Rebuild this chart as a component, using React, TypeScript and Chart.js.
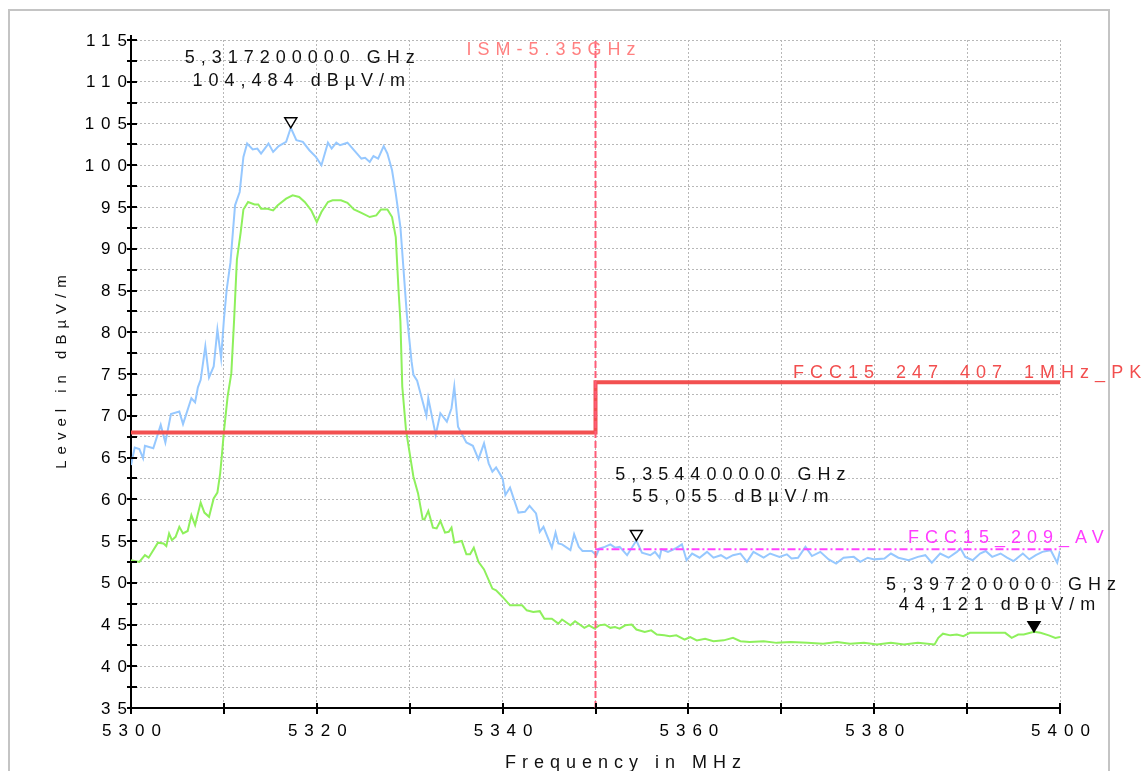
import React, { useEffect, useRef } from "react";
import { Chart, registerables } from "chart.js";

Chart.register(...registerables);

// ---------- data ----------
const peakFreq = [
  5300.0, 5300.4, 5300.9, 5301.3, 5301.5, 5302.4, 5303.2, 5303.7, 5304.3, 5305.2,
  5305.6, 5306.5, 5306.9, 5307.2, 5307.5, 5308.0, 5308.4, 5308.9, 5309.3, 5309.7,
  5310.0, 5310.3, 5310.7, 5311.2, 5311.7, 5312.1, 5312.5, 5313.1, 5313.6, 5314.0,
  5314.8, 5315.3, 5315.9, 5316.7, 5317.2, 5317.8, 5318.5, 5319.2, 5319.9, 5320.5,
  5321.2, 5321.6, 5322.1, 5322.5, 5323.3, 5324.0, 5324.8, 5325.2, 5325.7, 5326.1,
  5326.6, 5327.2, 5327.6, 5328.1, 5328.5, 5329.0, 5329.7, 5330.2, 5330.4, 5330.8,
  5331.8, 5332.0, 5332.8, 5333.3, 5334.0, 5334.5, 5334.8, 5335.2, 5336.1, 5336.8,
  5337.4, 5338.0, 5338.5, 5338.9, 5339.3, 5340.0, 5340.3, 5340.8, 5341.7, 5342.4,
  5342.9, 5343.6, 5344.0, 5344.4, 5345.3, 5345.7, 5346.0, 5346.4, 5347.3, 5347.7,
  5348.2, 5348.6, 5349.6, 5350.1, 5350.4, 5351.0, 5351.6, 5352.1, 5352.6, 5353.4,
  5354.4, 5355.0, 5355.9, 5356.4, 5356.9, 5357.1, 5357.8, 5358.6, 5359.3, 5359.8,
  5360.4, 5361.2, 5362.0, 5362.7, 5363.5, 5364.1, 5364.8, 5365.6, 5366.3, 5367.0,
  5368.1, 5368.8, 5369.8, 5370.6, 5371.1, 5371.8, 5372.6, 5373.3, 5374.2, 5375.1,
  5375.9, 5376.7, 5377.8, 5378.5, 5379.3, 5380.0, 5381.1, 5381.8, 5382.6, 5383.7,
  5384.7, 5385.5, 5386.2, 5387.1, 5388.0, 5388.9, 5389.3, 5389.8, 5390.6, 5391.4,
  5392.0, 5392.7, 5393.6, 5394.3, 5395.0, 5396.0, 5396.7, 5397.4, 5398.1, 5399.0,
  5399.7, 5400.0,
];
const peakLevel = [
  64.1, 66.2, 66.0, 64.9, 66.4, 66.1, 68.9, 66.8, 70.2, 70.5,
  69.0, 72.1, 71.6, 73.4, 74.3, 78.3, 74.6, 75.9, 80.3, 76.9,
  81.5, 85.1, 88.3, 95.2, 96.8, 101.0, 102.6, 101.9, 102.0, 101.4,
  102.6, 101.6, 102.3, 102.8, 104.484, 103.0, 102.8, 101.8, 101.0, 100.0,
  102.7, 102.0, 102.7, 102.4, 102.7, 101.8, 100.8, 100.9, 100.4, 101.1,
  100.8, 102.3, 101.4, 99.4, 96.6, 92.6, 82.0, 76.5, 74.9, 74.2,
  70.0, 72.1, 67.7, 70.3, 69.3, 70.9, 73.5, 68.7, 66.8, 66.4,
  64.8, 66.7, 64.3, 63.3, 63.8, 62.5, 60.5, 61.4, 58.4, 58.5,
  59.2, 58.3, 56.1, 56.7, 54.2, 56.0, 54.7, 54.6, 53.9, 55.8,
  54.3, 53.8, 53.8, 53.3, 54.1, 54.3, 54.6, 54.2, 54.3, 53.3,
  55.055, 53.6, 53.3, 53.7, 53.0, 54.0, 53.7, 54.1, 54.6, 52.7,
  53.5, 53.0, 53.7, 53.0, 53.3, 52.9, 53.3, 53.5, 52.5, 53.7,
  53.0, 53.5, 53.1, 53.4, 52.9, 53.0, 54.3, 53.2, 53.7, 52.8,
  52.3, 53.0, 53.1, 52.5, 53.0, 52.8, 52.9, 53.5, 53.0, 52.7,
  53.1, 53.3, 52.4, 53.5, 53.0, 53.7, 54.1, 53.1, 52.7, 53.5,
  53.8, 53.1, 53.5, 53.0, 52.6, 53.5, 52.8, 53.3, 53.7, 53.9,
  52.4, 53.8,
];

const avgFreq = [
  5300.0, 5300.9, 5301.5, 5301.9, 5302.9, 5303.5, 5303.8, 5304.1, 5304.4, 5304.8,
  5305.2, 5305.6, 5306.1, 5306.5, 5306.9, 5307.5, 5307.9, 5308.4, 5308.9, 5309.3,
  5309.6, 5309.8, 5310.0, 5310.4, 5310.8, 5311.1, 5311.4, 5311.8, 5312.1, 5312.6,
  5313.3, 5313.7, 5314.0, 5314.7, 5315.3, 5315.8, 5316.7, 5317.4, 5318.1, 5318.7,
  5319.4, 5320.0, 5320.5, 5321.2, 5321.7, 5322.6, 5323.3, 5324.0, 5324.8, 5325.7,
  5326.4, 5326.9, 5327.6, 5328.1, 5328.5, 5328.8, 5329.0, 5329.2, 5329.6, 5330.0,
  5330.4, 5330.9, 5331.4, 5331.6, 5332.0, 5332.5, 5332.9, 5333.3, 5333.8, 5334.2,
  5334.5, 5334.8, 5335.6, 5336.1, 5336.5, 5336.9, 5337.4, 5338.0, 5338.9, 5339.3,
  5340.0, 5340.8, 5342.1, 5342.6, 5343.3, 5344.0, 5344.5, 5345.3, 5346.0, 5346.4,
  5347.3, 5347.8, 5348.8, 5349.3, 5349.9, 5350.4, 5351.0, 5351.6, 5352.1, 5352.6,
  5353.2, 5353.9, 5354.4, 5355.3, 5356.0, 5356.6, 5357.4, 5358.0, 5358.7, 5359.6,
  5360.2, 5360.9, 5361.8, 5362.7, 5363.8, 5364.8, 5365.6, 5366.6, 5368.1, 5369.5,
  5371.0, 5372.8, 5374.5, 5376.0, 5377.4, 5378.9, 5380.3, 5381.8, 5383.2, 5384.7,
  5386.5, 5386.9, 5387.4, 5388.2, 5388.9, 5389.6, 5390.3, 5391.4, 5392.5, 5394.1,
  5394.8, 5395.5, 5396.1, 5397.2, 5397.9, 5398.8, 5399.5, 5400.0,
];
const avgLevel = [
  52.7, 52.5, 53.3, 53.0, 54.8, 54.7, 54.4, 55.9, 55.1, 55.5,
  56.7, 55.9, 56.2, 58.1, 56.9, 59.6, 58.4, 57.9, 60.1, 60.8,
  63.1, 65.5, 68.1, 72.3, 75.1, 81.5, 88.7, 91.9, 94.7, 95.6,
  95.3, 95.3, 94.8, 94.8, 94.6, 95.2, 96.0, 96.4, 96.2, 95.6,
  94.6, 93.2, 94.4, 95.6, 95.8, 95.8, 95.5, 94.7, 94.3, 93.8,
  94.0, 94.7, 94.7, 93.8, 91.4, 85.0, 81.3, 73.5, 68.3, 65.5,
  62.7, 60.7, 57.6, 57.6, 58.6, 56.6, 56.5, 57.4, 56.0, 56.1,
  56.6, 54.8, 55.0, 53.4, 53.4, 54.2, 52.5, 51.6, 49.3, 49.1,
  48.3, 47.3, 47.3, 46.7, 46.5, 46.6, 45.7, 45.7, 45.1, 45.6,
  44.9, 45.4, 44.6, 44.9, 44.5, 44.9, 45.0, 44.6, 44.7, 44.5,
  44.9, 45.0, 44.4, 44.1, 44.3, 43.8, 43.7, 43.6, 43.7, 43.2,
  43.5, 43.1, 43.3, 43.0, 43.1, 43.4, 43.0, 42.9, 43.0, 42.8,
  42.9, 42.8, 42.7, 42.9, 42.7, 42.8, 42.6, 42.8, 42.6, 42.8,
  42.6, 43.4, 43.9, 43.7, 43.8, 43.6, 44.0, 44.0, 44.0, 44.0,
  43.4, 43.8, 43.8, 44.121, 44.0, 43.7, 43.4, 43.5,
];

const pkLimitFreq = [5300, 5350, 5350, 5400];
const pkLimitLevel = [68, 68, 74, 74];
const avLimitFreq = [5350, 5400];
const avLimitLevel = [54, 54];
const ismFreq = [5350, 5350];
const ismLevel = [35, 115];

const markerFreq = [5317.2, 5354.4, 5397.2];
const markerLevel = [104.484, 55.055, 44.121];
const markerFilled = [false, false, true];

const limitLabels = ["ISM-5.35GHz", "FCC15_247_407_1MHz_PK", "FCC15_209_AV"];
const xTitle = "Frequency in MHz";
const yTitle = "Level in dB\u00b5V/m";
const levelUnit = "dB\u00b5V/m";

// ---------- layout / style constants ----------
const FONT = '"Liberation Sans", Arial, Helvetica, sans-serif';
// [dx1, dy1, dx2, dy2] pixel offsets of marker label lines from marker tip
const markerLabelOffsets = [
  [9, -70, 8, -47],
  [94, -66, 94, -44],
  [-33, -47, -37, -27],
];

const pts = (xs: number[], ys: number[]) => xs.map((x, i) => ({ x, y: ys[i] }));

function drawSpaced(
  ctx: CanvasRenderingContext2D,
  text: string,
  x: number,
  y: number,
  align: "left" | "center" | "right",
  spacing: number
) {
  (ctx as any).letterSpacing = spacing + "px";
  const supported = (ctx as any).letterSpacing === spacing + "px";
  const w = ctx.measureText(text).width;
  const visible = supported ? w - spacing : w;
  let left = x;
  if (align === "center") left = x - visible / 2;
  else if (align === "right") left = x - visible;
  ctx.textAlign = "left";
  ctx.fillText(text, left, y);
}

const fmtFreq = (f: number) => (f / 1000).toFixed(9).replace(".", ",") + " GHz";
const fmtLevel = (v: number) => v.toFixed(3).replace(".", ",") + " " + levelUnit;

const overlayPlugin = {
  id: "overlay",
  beforeDraw(chart: any) {
    const ctx: CanvasRenderingContext2D = chart.ctx;
    ctx.save();
    ctx.fillStyle = "#fff";
    ctx.fillRect(0, 0, chart.width, chart.height);
    ctx.fillStyle = "#c4c4c4";
    ctx.fillRect(8, 9, 1102, 2);
    ctx.fillRect(8, 9, 2, 780);
    ctx.fillRect(1108, 9, 2, 780);
    ctx.restore();
    (ctx as any).letterSpacing = "7px";
  },
  afterDraw(chart: any) {
    const ctx: CanvasRenderingContext2D = chart.ctx;
    const xs = chart.scales.x;
    const ys = chart.scales.y;
    ctx.save();
    ctx.setLineDash([]);
    ctx.strokeStyle = "#000";
    ctx.lineWidth = 2;
    // crossing tick marks
    ys.ticks.forEach((t: any) => {
      const p = Math.round(ys.getPixelForValue(t.value));
      ctx.beginPath();
      ctx.moveTo(xs.left - 4, p);
      ctx.lineTo(xs.left + 6, p);
      ctx.stroke();
    });
    xs.ticks.forEach((t: any) => {
      const p = Math.round(xs.getPixelForValue(t.value));
      ctx.beginPath();
      ctx.moveTo(p, ys.bottom - 5);
      ctx.lineTo(p, ys.bottom + 6);
      ctx.stroke();
    });
    // axis extension above top
    ctx.beginPath();
    ctx.moveTo(Math.round(xs.left), ys.top - 5);
    ctx.lineTo(Math.round(xs.left), ys.top);
    ctx.stroke();

    // limit labels
    ctx.textBaseline = "middle";
    ctx.font = `18px ${FONT}`;
    const x5350 = xs.getPixelForValue(5350);
    const x5400 = xs.getPixelForValue(5400);
    ctx.fillStyle = "#ff8080";
    drawSpaced(ctx, limitLabels[0], x5350 - 129, ys.top + 10, "left", 6);
    ctx.fillStyle = "#f24e4e";
    drawSpaced(ctx, limitLabels[1], x5400 - 267, ys.getPixelForValue(74) - 9, "left", 6);
    ctx.fillStyle = "#ff3cff";
    drawSpaced(ctx, limitLabels[2], x5400 - 152, ys.getPixelForValue(54) - 11, "left", 6);

    // markers
    ctx.lineWidth = 1.5;
    markerFreq.forEach((f, i) => {
      const px = xs.getPixelForValue(f);
      const py = ys.getPixelForValue(markerLevel[i]);
      ctx.beginPath();
      ctx.moveTo(px - 6, py - 10);
      ctx.lineTo(px + 6, py - 10);
      ctx.lineTo(px, py);
      ctx.closePath();
      ctx.fillStyle = markerFilled[i] ? "#000" : "#fff";
      ctx.fill();
      ctx.strokeStyle = "#000";
      ctx.stroke();
      const o = markerLabelOffsets[i];
      ctx.fillStyle = "#111";
      ctx.font = `18px ${FONT}`;
      drawSpaced(ctx, fmtFreq(f), px + o[0], py + o[1], "center", 6);
      drawSpaced(ctx, fmtLevel(markerLevel[i]), px + o[2], py + o[3], "center", 6);
    });

    // axis titles
    ctx.fillStyle = "#111";
    ctx.font = `18px ${FONT}`;
    drawSpaced(ctx, xTitle, 623, 763, "center", 6);
    ctx.save();
    ctx.translate(62, (ys.top + ys.bottom) / 2 - 5);
    ctx.rotate(-Math.PI / 2);
    ctx.font = `15px ${FONT}`;
    drawSpaced(ctx, yTitle, 0, 0, "center", 6);
    ctx.restore();

    ctx.restore();
  },
};

export default function App() {
  const ref = useRef<HTMLCanvasElement>(null);
  useEffect(() => {
    if (!ref.current) return;
    const chart = new Chart(ref.current, {
      type: "line",
      data: {
        datasets: [
          {
            data: pts(ismFreq, ismLevel),
            borderColor: "#ff5c78",
            borderWidth: 2,
            borderDash: [7, 3],
            pointRadius: 0,
          },
          {
            data: pts(pkLimitFreq, pkLimitLevel),
            borderColor: "#f25050",
            borderWidth: 4,
            pointRadius: 0,
          },
          {
            data: pts(avLimitFreq, avLimitLevel),
            borderColor: "#ff40ff",
            borderWidth: 2,
            borderDash: [8, 3, 2, 3],
            pointRadius: 0,
          },
          {
            data: pts(peakFreq, peakLevel),
            borderColor: "#96c8ff",
            borderWidth: 2,
            pointRadius: 0,
          },
          {
            data: pts(avgFreq, avgLevel),
            borderColor: "#8ef05c",
            borderWidth: 2,
            pointRadius: 0,
          },
        ],
      },
      options: {
        responsive: false,
        animation: false,
        devicePixelRatio: 1,
        events: [],
        layout: { padding: { top: 40, right: 88, left: 0, bottom: 0 } },
        plugins: { legend: { display: false }, tooltip: { enabled: false } },
        elements: { line: { tension: 0 } },
        scales: {
          x: {
            type: "linear",
            min: 5300,
            max: 5400,
            afterFit: (s: any) => {
              s.height = 63;
            },
            grid: { color: "#b8b8b8", lineWidth: 1, drawTicks: false },
            border: { display: true, color: "#000", width: 2, dash: [2, 2] },
            ticks: {
              stepSize: 10,
              autoSkip: false,
              maxRotation: 0,
              padding: 13,
              labelOffset: 4,
              color: "#000",
              font: { family: FONT, size: 17 },
              callback: (v: any) => (Number(v) % 20 === 0 ? String(v) : ""),
            },
          },
          y: {
            type: "linear",
            min: 35,
            max: 115,
            afterFit: (s: any) => {
              s.width = 131;
            },
            grid: { color: "#b8b8b8", lineWidth: 1, drawTicks: false },
            border: { display: true, color: "#000", width: 2, dash: [2, 2] },
            ticks: {
              stepSize: 2.5,
              autoSkip: false,
              padding: -3,
              labelOffset: 1,
              color: "#000",
              font: { family: FONT, size: 17 },
              callback: (v: any) => (Number(v) % 5 === 0 ? String(v) : ""),
            },
          },
        },
      },
      plugins: [overlayPlugin],
    } as any);
    return () => chart.destroy();
  }, []);
  return (
    <div
      style={{
        position: "fixed",
        left: 0,
        top: 0,
        width: 1148,
        height: 771,
        background: "#fff",
        overflow: "hidden",
      }}
    >
      <canvas ref={ref} width={1148} height={771} style={{ display: "block", width: 1148, height: 771 }} />
    </div>
  );
}
